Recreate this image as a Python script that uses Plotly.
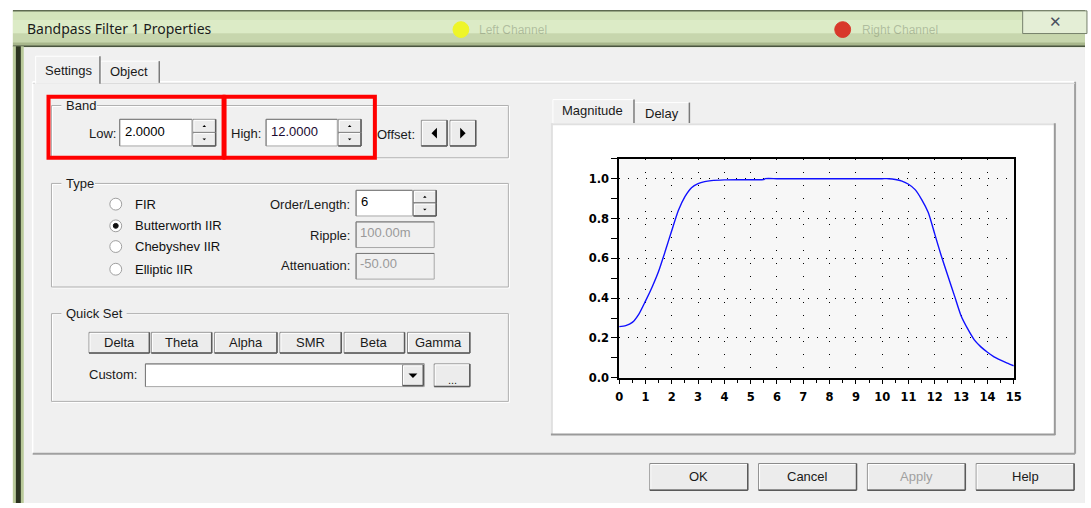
import plotly.graph_objects as go

W, H = 1091, 508

# ---------------- data ----------------
freq = [0, 0.25, 0.5, 0.75, 1.0, 1.25, 1.5, 1.75, 2.0, 2.25, 2.5, 2.75, 3.0, 3.25, 3.5,
        4.0, 4.5, 5.0, 5.5, 5.55, 6, 7, 8, 9, 10, 10.25, 10.5, 10.75, 11.0, 11.25, 11.5,
        11.75, 12.0, 12.25, 12.5, 12.75, 13.0, 13.25, 13.5, 13.75, 14.0, 14.25, 14.5,
        14.75, 15.0]
magnitude = [0.257, 0.262, 0.278, 0.32, 0.385, 0.455, 0.535, 0.635, 0.74, 0.84, 0.91,
             0.955, 0.975, 0.985, 0.99, 0.994, 0.995, 0.995, 0.996, 1.0, 1.0, 1.0, 1.0,
             1.0, 1.0, 1.0, 0.996, 0.988, 0.972, 0.945, 0.895, 0.83, 0.72, 0.61, 0.51,
             0.41, 0.31, 0.245, 0.19, 0.155, 0.128, 0.105, 0.088, 0.073, 0.06]
x_ticks = list(range(0, 16))
x_tick_labels = [str(v) for v in x_ticks]
y_ticks = [0.0, 0.2, 0.4, 0.6, 0.8, 1.0]
y_tick_labels = ["0.0", "0.2", "0.4", "0.6", "0.8", "1.0"]
quick_set = ["Delta", "Theta", "Alpha", "SMR", "Beta", "Gamma"]
filter_types = ["FIR", "Butterworth IIR", "Chebyshev IIR", "Elliptic IIR"]
dialog_buttons = ["OK", "Cancel", "Apply", "Help"]

UI = "Liberation Sans"
BODY = "#f0f0f0"

shapes = []
annotations = []


def px(x):
    return x / W


def py(y):
    return 1 - y / H


def rect(x0, y0, x1, y1, fill=None, line=None, lw=1):
    shapes.append(dict(type="rect", xref="paper", yref="paper", layer="below",
                       x0=px(x0), x1=px(x1), y0=py(y1), y1=py(y0),
                       fillcolor=fill if fill else "rgba(0,0,0,0)",
                       line=dict(color=line if line else "rgba(0,0,0,0)",
                                 width=lw if line else 0)))


def hline(x0, x1, y, color, lw=1):
    shapes.append(dict(type="line", xref="paper", yref="paper", layer="below",
                       x0=px(x0), x1=px(x1), y0=py(y), y1=py(y),
                       line=dict(color=color, width=lw)))


def vline(x, y0, y1, color, lw=1):
    shapes.append(dict(type="line", xref="paper", yref="paper", layer="below",
                       x0=px(x), x1=px(x), y0=py(y0), y1=py(y1),
                       line=dict(color=color, width=lw)))


def circle(cx, cy, r, fill, line, lw=1):
    shapes.append(dict(type="circle", xref="paper", yref="paper", layer="below",
                       x0=px(cx - r), x1=px(cx + r), y0=py(cy + r), y1=py(cy - r),
                       fillcolor=fill, line=dict(color=line, width=lw)))


def tri(cx, cy, s, direction, color="black"):
    if direction == "up":
        pts = [(cx - s, cy + s / 2), (cx + s, cy + s / 2), (cx, cy - s / 2)]
    elif direction == "down":
        pts = [(cx - s, cy - s / 2), (cx + s, cy - s / 2), (cx, cy + s / 2)]
    elif direction == "left":
        pts = [(cx + s / 2, cy - s), (cx + s / 2, cy + s), (cx - s / 2, cy)]
    else:
        pts = [(cx - s / 2, cy - s), (cx - s / 2, cy + s), (cx + s / 2, cy)]
    path = "M " + " L ".join(f"{px(a):.5f},{py(b):.5f}" for a, b in pts) + " Z"
    shapes.append(dict(type="path", xref="paper", yref="paper", layer="below",
                       path=path, fillcolor=color, line=dict(color=color, width=0)))


def text(x, y, s, anchor="left", size=13, color="#1a1a1a", family=UI, weight=None):
    a = dict(xref="paper", yref="paper", x=px(x), y=py(y), text=s, showarrow=False,
             xanchor=anchor, yanchor="middle",
             font=dict(family=family, size=size, color=color))
    if weight:
        a["font"]["weight"] = weight
    annotations.append(a)


def button(x0, y0, x1, y1, label=None, color="#1a1a1a"):
    rect(x0, y0, x1, y1, fill="#ececec", line="#8a8a8a")
    hline(x0 + 1, x1 - 1, y0 + 1, "#ffffff")
    vline(x0 + 1, y0 + 1, y1 - 1, "#ffffff")
    hline(x0, x1, y1, "#5a5a5a", 1.5)
    vline(x1, y0, y1, "#5a5a5a", 1.5)
    if label:
        text((x0 + x1) / 2, (y0 + y1) / 2, label, anchor="center", color=color)


def textbox(x0, y0, x1, y1, fill="white"):
    rect(x0, y0, x1, y1, fill=fill, line="#a8a8a8")
    hline(x0, x1, y0, "#7a7a7a")
    vline(x0, y0, y1, "#7a7a7a")


def spinner(x0, y0, x1, y1):
    ym = (y0 + y1) / 2
    button(x0, y0, x1, ym)
    button(x0, ym, x1, y1)
    tri((x0 + x1) / 2, (y0 + ym) / 2, 1.8, "up")
    tri((x0 + x1) / 2, (ym + y1) / 2, 1.8, "down")


def group(x0, y0, x1, y1, label, lw):
    rect(x0 + 1, y0 + 1, x1 + 1, y1 + 1, line="#ffffff")
    rect(x0, y0, x1, y1, line="#b0b0b0")
    rect(x0 + 10, y0 - 8, x0 + 14 + lw, y0 + 8, fill=BODY)
    text(x0 + 13, y0, label)


# ---------------- window frame ----------------
rect(9, 11, W + 2, H + 2, fill="#c9d9b0")
rect(9, 11, W + 2, 20, fill="#d4e4bb")
rect(9, 20, W + 2, 34, fill="#dcebc6")
rect(9, 34, W + 2, 43, fill="#c7d6ad")
rect(9, 43, W + 2, 47, fill="#a8b78c")
hline(9, W + 2, 11, "#5e6a50", 1.5)
hline(9, W + 2, 47, "#4a5540", 1.5)
rect(9, 47, 20, H + 2, fill="#b9c99a")
rect(12, 47, 17, H + 2, fill="#2b3320")
circle(462, 30, 8, "#eef52a", "#eef52a")
text(478, 30, "Left Channel", size=12, color="rgba(90,100,80,0.35)")
circle(848, 30, 8, "#d8382a", "#d8382a")
text(866, 30, "Right Channel", size=12, color="rgba(90,100,80,0.35)")
rect(1030, 11, W + 4, 34, fill="#e4eed6", line="#76806c")
text(1063, 22, "✕", anchor="center", size=15, color="#4a5060", family="DejaVu Sans", weight="bold")
text(21, 29, "Bandpass Filter 1 Properties", size=14, color="#1b1b1b", family="Noto Sans")

rect(20, 48, W + 2, H + 2, fill=BODY)

# ---------------- settings tab control ----------------
rect(29, 83, 1083, 460, fill=BODY)
hline(29, 1083, 83, "#ffffff", 1.5)
vline(29, 83, 460, "#ffffff", 1.5)
hline(29, 1083, 460, "#a0a0a0", 2)
vline(1083, 83, 460, "#a0a0a0", 2)
hline(29, 1083, 84.5, "#d8d8d8")
rect(98, 62, 157, 84, fill=BODY)
hline(98, 157, 62, "#ffffff")
vline(98, 62, 84, "#ffffff")
vline(157, 62, 84, "#7a7a7a", 1.5)
text(105, 73, "Object")
rect(32, 57, 97, 85, fill=BODY)
hline(32, 97, 57, "#ffffff")
vline(32, 57, 85, "#ffffff")
vline(97, 57, 85, "#7a7a7a", 1.5)
text(39, 71, "Settings")

# ---------------- Band group ----------------
group(48, 107, 510, 160, "Band", 32)
text(115, 135, "Low:", anchor="right")
textbox(117, 121, 190, 148)
text(120, 133, "2.0000", color="#000000")
spinner(191, 121, 214, 148)
text(228, 135, "High:")
textbox(265, 121, 337, 148)
text(268, 133, "12.0000", color="#1a0a30")
spinner(338, 121, 361, 148)
text(375, 136, "Offset:")
button(422, 122, 448, 148)
tri(435, 135, 5.5, "left")
button(451, 122, 477, 148)
tri(464, 135, 5.5, "right")

rect(45, 98, 222, 160, line="#ff0000", lw=4)
rect(223, 98, 375, 160, line="#ff0000", lw=4)

# ---------------- Type group ----------------
group(48, 186, 510, 291, "Type", 30)
radio_y = [207, 229, 250, 273]
for name, yy in zip(filter_types, radio_y):
    circle(113, yy, 6, "#ffffff", "#a0a0a0")
    text(130, yy, name, color="#101010")
circle(113, radio_y[1], 2.5, "#101010", "#101010")
text(352, 207, "Order/Length:", anchor="right")
textbox(356, 193, 413, 219)
text(359, 204, "6", color="#000000")
spinner(414, 193, 437, 219)
text(352, 239, "Ripple:", anchor="right")
textbox(356, 225, 435, 251, fill="#f0f0f0")
text(358, 236, "100.00m", color="#9a9a9a")
text(352, 269, "Attenuation:", anchor="right")
textbox(356, 257, 435, 283, fill="#f0f0f0")
text(358, 267, "-50.00", color="#9a9a9a")

# ---------------- Quick Set group ----------------
group(48, 318, 510, 407, "Quick Set", 62)
qs_x = [(86, 147), (149, 210), (213, 276), (279, 341), (344, 405), (408, 471)]
for name, (a, b) in zip(quick_set, qs_x):
    button(a, 337, b, 358, name)
text(136, 380, "Custom:", anchor="right")
textbox(143, 369, 425, 392)
button(403, 370, 424, 391)
tri(413.5, 381, 4.5, "down")
button(435, 369, 471, 392)
text(453, 385, "...", anchor="center", size=11)

# ---------------- chart tab control ----------------
rect(555, 101, 637, 126, fill=BODY)
hline(555, 637, 101, "#ffffff")
vline(555, 101, 126, "#ffffff")
vline(637, 101, 126, "#7a7a7a", 1.5)
text(562, 112, "Magnitude")
rect(638, 104, 693, 125, fill=BODY)
hline(638, 693, 104, "#ffffff")
vline(693, 104, 125, "#7a7a7a", 1.5)
text(646, 115, "Delay")
rect(553, 125, 1062, 440, fill="#ffffff")
hline(553, 1062, 126, "#e0e0e0", 2)
vline(554, 125, 440, "#e0e0e0", 2)
hline(553, 1063, 440.5, "#9a9a9a", 2)
vline(1062.5, 125, 441, "#9a9a9a", 2)
rect(622, 161, 1021, 383, fill="#f7f7f7")

# ---------------- dialog buttons ----------------
for name, (a, b) in zip(dialog_buttons, [(653, 752), (763, 862), (873, 972), (983, 1082)]):
    button(a, 470, b, 497, name, color="#a0a0a0" if name == "Apply" else "#1a1a1a")

# ---------------- chart ----------------
fig = go.Figure()
fig.add_trace(go.Scatter(x=freq, y=magnitude, mode="lines",
                         line=dict(color="#1010ff", width=1.4, shape="spline", smoothing=0.6),
                         hoverinfo="skip", showlegend=False))

tickfont = dict(family="DejaVu Sans", size=11.5, color="#000000", weight="bold")
fig.update_layout(
    width=W, height=H, margin=dict(l=0, r=0, t=0, b=0),
    paper_bgcolor="#ffffff", plot_bgcolor="rgba(0,0,0,0)",
    shapes=shapes, annotations=annotations, showlegend=False,
    xaxis=dict(domain=[px(622), px(1021)], range=[0, 15], tickmode="array",
               tickvals=x_ticks, ticktext=x_tick_labels, showgrid=True,
               gridcolor="#000000", gridwidth=1.2, griddash="1px,12px",
               showline=True, linecolor="#000000", linewidth=1.5, mirror=True,
               ticks="outside", ticklen=5, tickcolor="#000000", tickwidth=1.2,
               ticklabelstandoff=3,
               minor=dict(dtick=0.5, tick0=0, ticks="outside", ticklen=4,
                          tickcolor="#000000", tickwidth=1.2, showgrid=False),
               tickfont=tickfont, zeroline=False, fixedrange=True),
    yaxis=dict(domain=[py(383), py(161)], range=[0, 1.1], tickmode="array",
               tickvals=y_ticks, ticktext=y_tick_labels, showgrid=True,
               gridcolor="#000000", gridwidth=1.2, griddash="1px,8px",
               showline=True, linecolor="#000000", linewidth=1.5, mirror=True,
               ticks="outside", ticklen=6, tickcolor="#000000", tickwidth=1.2,
               minor=dict(dtick=0.1, tick0=0, ticks="outside", ticklen=6,
                          tickcolor="#000000", tickwidth=1.2, showgrid=False),
               tickfont=tickfont, zeroline=False, fixedrange=True),
)

fig.write_html("out.html", config={"displayModeBar": False},
               post_script="document.body.style.margin='0px';document.body.style.overflow='hidden';")
